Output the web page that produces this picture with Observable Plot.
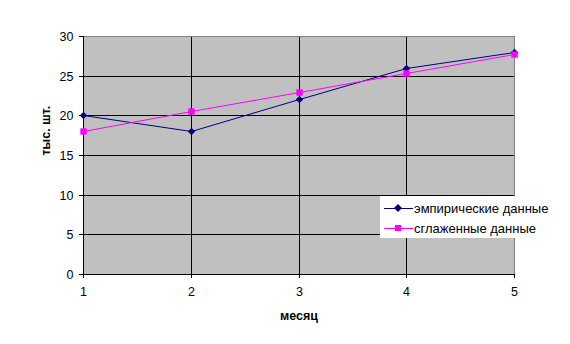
<!DOCTYPE html>
<html>
<head>
<meta charset="utf-8">
<script src="https://cdn.jsdelivr.net/npm/d3@7"></script>
<script src="https://cdn.jsdelivr.net/npm/@observablehq/plot@0.6"></script>
<style>
  html, body { margin: 0; padding: 0; background: #fff; }
  #wrap { position: relative; width: 570px; height: 344px; font-family: Arial, "Liberation Sans", sans-serif; }
  #legend { position: absolute; left: 380px; top: 196px; width: 173px; height: 42px; background: #fff; font-size: 13px; color: #000; }
  .row { position: absolute; left: 0; height: 14px; display: flex; align-items: center; }
  .row svg { display: block; }
  .row span { margin-left: 1px; white-space: nowrap; }
</style>
</head>
<body>
<div id="wrap"></div>
<script>
const months = [1, 2, 3, 4, 5];
const empirical = [20, 18, 22, 26, 28];
const smoothed = [18, 20.5, 22.9, 25.3, 27.7];
const yTicks = [0, 5, 10, 15, 20, 25, 30];
const seriesNames = ["эмпирические данные", "сглаженные данные"];
const colors = ["#000080", "#ff00ff"];

const empData = months.map((m, i) => ({month: m, value: empirical[i]}));
const smData = months.map((m, i) => ({month: m, value: smoothed[i]}));

const chart = Plot.plot({
  width: 570,
  height: 344,
  marginLeft: 83,
  marginRight: 56,
  marginTop: 36,
  marginBottom: 70,
  style: {fontFamily: "Arial, 'Liberation Sans', sans-serif", fontSize: "12.5px", color: "#000", background: "#fff"},
  x: {domain: [1, 5], round: true},
  y: {domain: [0, 30], round: true},
  marks: [
    Plot.frame({fill: "#c0c0c0", stroke: "none"}),
    Plot.ruleY(yTicks.filter(t => t > 0 && t < 30), {stroke: "#000", strokeWidth: 1}),
    Plot.ruleX(months.filter(m => m > 1 && m < 5), {stroke: "#000", strokeWidth: 1}),
    Plot.ruleY([30], {stroke: "#808080", strokeWidth: 1}),
    Plot.ruleX([5], {stroke: "#808080", strokeWidth: 1}),
    Plot.ruleX([1], {stroke: "#000", strokeWidth: 1}),
    Plot.ruleY([0], {stroke: "#000", strokeWidth: 1}),
    Plot.axisY({ticks: yTicks, tickSize: 4, tickPadding: 6, tickFormat: d => d, label: null, stroke: "#000", fill: "#000"}),
    Plot.axisX({ticks: months, tickSize: 4, tickPadding: 9, tickFormat: d => d, label: null, stroke: "#000", fill: "#000"}),
    Plot.text(["тыс. шт."], {frameAnchor: "left", dx: -38, rotate: -90, fontWeight: "bold", fontSize: 12.5, fill: "#000"}),
    Plot.text(["месяц"], {frameAnchor: "bottom", dy: 45, fontWeight: "bold", fontSize: 12.5, fill: "#000"}),
    Plot.line(empData, {x: "month", y: "value", stroke: colors[0], strokeWidth: 1}),
    Plot.line(smData, {x: "month", y: "value", stroke: colors[1], strokeWidth: 1}),
    Plot.dot(empData, {x: "month", y: "value", symbol: "diamond2", r: 3.4, fill: colors[0], stroke: "none"}),
    Plot.dot(smData, {x: "month", y: "value", symbol: "square", r: 3.6, fill: colors[1], stroke: "none"})
  ]
});

const wrap = document.getElementById("wrap");
wrap.appendChild(chart);

const legend = document.createElement("div");
legend.id = "legend";
const symbols = [
  '<path d="M18,3 L22,7 L18,11 L14,7 Z" fill="' + colors[0] + '"/>',
  '<rect x="15" y="4" width="6" height="6" fill="' + colors[1] + '"/>'
];
seriesNames.forEach((name, i) => {
  const row = document.createElement("div");
  row.className = "row";
  row.style.top = (5 + i * 20) + "px";
  row.innerHTML = '<svg width="33" height="14"><line x1="4" y1="7.5" x2="33" y2="7.5" stroke="' + colors[i] + '" stroke-width="1"/>' +
    symbols[i] + '</svg><span>' + name + '</span>';
  legend.appendChild(row);
});
wrap.appendChild(legend);
</script>
</body>
</html>
